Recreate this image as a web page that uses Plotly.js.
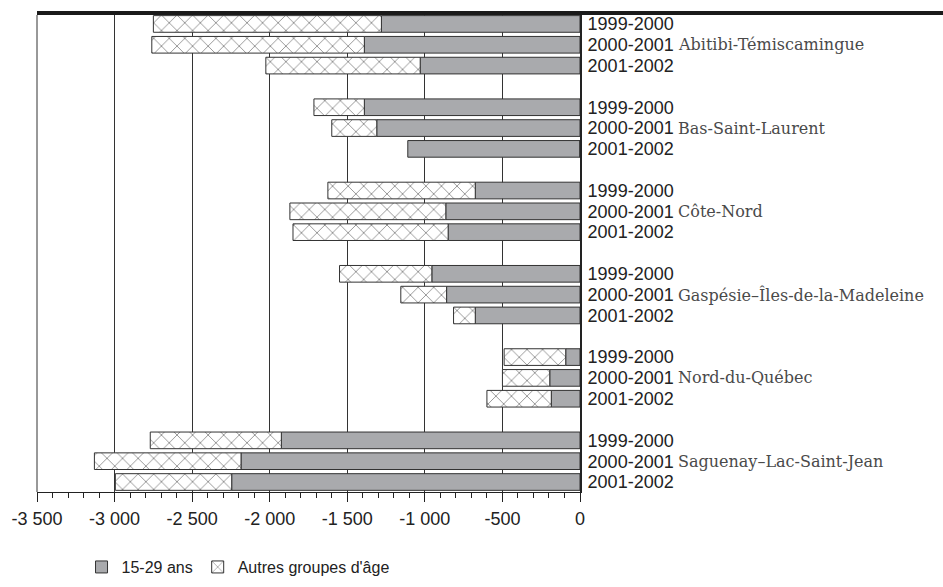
<!DOCTYPE html>
<html>
<head>
<meta charset="utf-8">
<script src="https://cdn.plot.ly/plotly-3.0.1.min.js"></script>
<style>html,body{margin:0;padding:0;background:#fff;}#chart{width:943px;height:587px;}</style>
</head>
<body>
<div id="chart"></div>
<script>
var regions = ['Abitibi-Témiscamingue', 'Bas-Saint-Laurent', 'Côte-Nord', 'Gaspésie–Îles-de-la-Madeleine', 'Nord-du-Québec', 'Saguenay–Lac-Saint-Jean'];
var years = ['1999-2000', '2000-2001', '2001-2002'];
var seriesNames = ['15-29 ans', "Autres groupes d'âge"];
// values per region, per year
var jeunes = [
  [-1280, -1390, -1030],
  [-1390, -1310, -1110],
  [-675, -865, -850],
  [-955, -860, -675],
  [-92, -195, -185],
  [-1925, -2185, -2245]
];
var autres = [
  [-1470, -1370, -995],
  [-325, -290, 0],
  [-950, -1005, -1000],
  [-595, -295, -140],
  [-397, -305, -415],
  [-845, -945, -750]
];
var xTickVals = [-3500, -3000, -2500, -2000, -1500, -1000, -500, 0];
var xTickText = ['-3 500', '-3 000', '-2 500', '-2 000', '-1 500', '-1 000', '-500', '0'];

var ySlots = [], yLabels = [], jx = [], ax = [];
regions.forEach(function (r, gi) {
  years.forEach(function (yr, yi) {
    ySlots.push(gi * 4 + yi);
    yLabels.push(yr);
    jx.push(jeunes[gi][yi]);
    ax.push(autres[gi][yi]);
  });
});

var traces = [
  {
    type: 'bar', orientation: 'h', name: seriesNames[0],
    x: jx, y: ySlots, width: 0.8,
    marker: {color: '#a9aaad', line: {color: '#333333', width: 1}},
    hoverinfo: 'x+name'
  },
  {
    type: 'bar', orientation: 'h', name: seriesNames[1],
    x: ax, y: ySlots, width: 0.8,
    marker: {color: '#ffffff', line: {color: '#333333', width: 1},
      pattern: {shape: 'x', size: 11, solidity: 0.1, fgcolor: '#4a4a4a', bgcolor: '#ffffff'}},
    hoverinfo: 'x+name'
  }
];

var annotations = regions.map(function (r, gi) {
  return {
    xref: 'paper', yref: 'y', x: 1, y: gi * 4 + 1, xshift: 96,
    xanchor: 'left', yanchor: 'middle', showarrow: false, text: r,
    font: {family: 'DejaVu Serif', size: 16, color: '#4a4a4a'}
  };
});

var layout = {
  width: 943, height: 587,
  margin: {l: 37, r: 363, t: 15, b: 95, autoexpand: false},
  paper_bgcolor: '#ffffff', plot_bgcolor: '#ffffff',
  barmode: 'relative', bargap: 0,
  showlegend: true,
  legend: {
    orientation: 'h', xref: 'paper', x: 0.082, xanchor: 'left',
    yref: 'container', y: 0.034, yanchor: 'middle',
    font: {family: 'Liberation Sans, Arial, sans-serif', size: 16, color: '#222'},
    traceorder: 'normal', itemgap: 14
  },
  xaxis: {
    range: [-3500, 0], tickvals: xTickVals, ticktext: xTickText,
    showgrid: true, gridcolor: '#333333', gridwidth: 1,
    zeroline: false, showline: true, linecolor: '#222222', linewidth: 1,
    ticks: 'outside', ticklen: 9, tickcolor: '#222222', tickwidth: 1,
    minor: {dtick: 100, ticks: 'outside', ticklen: 5, tickcolor: '#222222', showgrid: false},
    tickfont: {family: 'Liberation Sans, Arial, sans-serif', size: 18, color: '#222'},
    ticklabelstandoff: 1, automargin: false,
    fixedrange: true
  },
  yaxis: {
    range: [22.48, -0.43], side: 'right',
    tickmode: 'array', tickvals: ySlots, ticktext: yLabels,
    showgrid: false, zeroline: false, showline: true, linecolor: '#222222', linewidth: 2,
    ticks: '', ticklabelstandoff: 2, automargin: false,
    tickfont: {family: 'Liberation Sans, Arial, sans-serif', size: 18, color: '#222'},
    fixedrange: true
  },
  shapes: [
    {type: 'line', xref: 'paper', yref: 'paper', x0: 0, x1: 1.7, y0: 1.004, y1: 1.004,
      line: {color: '#1a1a1a', width: 4}},
    {type: 'line', xref: 'paper', yref: 'paper', x0: 0, x1: 0, y0: 0, y1: 1,
      line: {color: '#333333', width: 1}}
  ],
  annotations: annotations
};

Plotly.newPlot('chart', traces, layout, {displayModeBar: false, staticPlot: true});
</script>
</body>
</html>
